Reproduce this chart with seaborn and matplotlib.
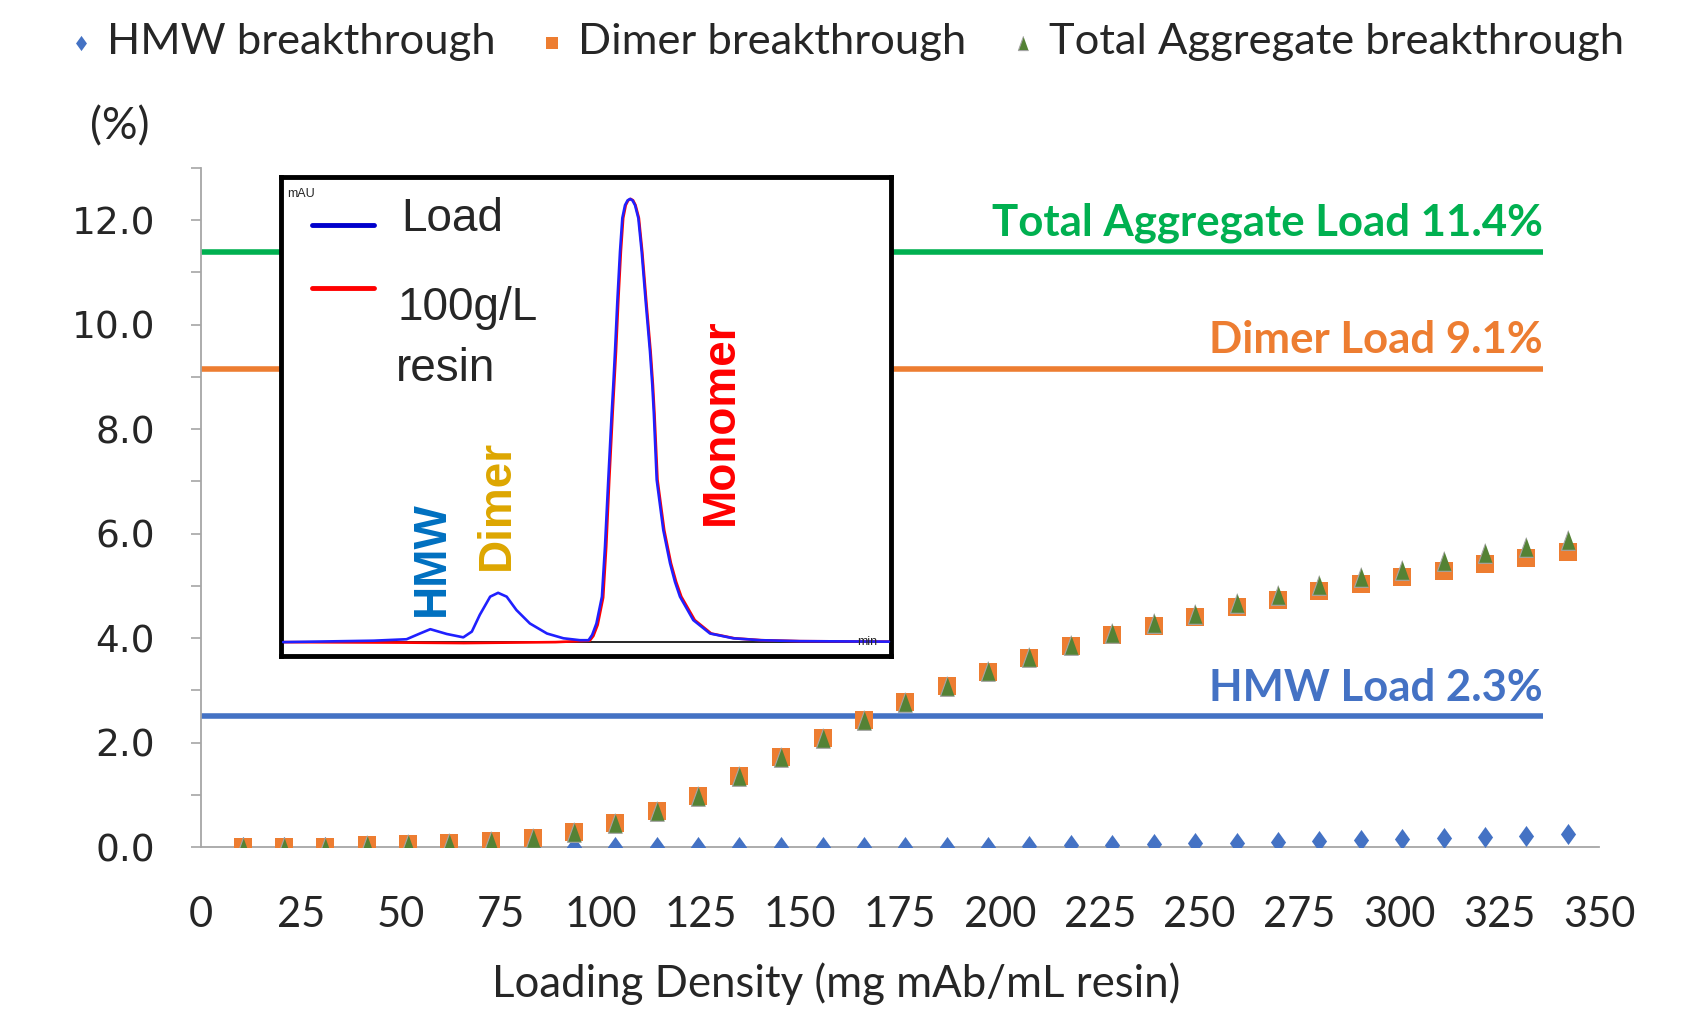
import numpy as np
import matplotlib
matplotlib.use("Agg")
import matplotlib.pyplot as plt
import seaborn as sns

# breakthrough data
loading = [10.4, 20.7, 31.1, 41.5, 51.9, 62.2, 72.6, 83.0, 93.3, 103.7, 114.1,
           124.4, 134.8, 145.2, 155.6, 165.9, 176.3, 186.7, 197.0, 207.4, 217.8,
           228.1, 238.5, 248.9, 259.3, 269.6, 280.0, 290.4, 300.7, 311.1, 321.5,
           331.8, 342.2]
hmw = [0.0, 0.0, 0.0, 0.0, 0.0, 0.0, 0.0, 0.0, 0.0, 0.0, 0.0,
       0.0, 0.0, 0.0, 0.0, 0.0, 0.0, 0.0, 0.0, 0.01, 0.03,
       0.04, 0.05, 0.07, 0.08, 0.09, 0.11, 0.13, 0.15, 0.17, 0.20,
       0.22, 0.24]
dimer = [0.0, 0.0, 0.0, 0.03, 0.05, 0.07, 0.12, 0.18, 0.29, 0.45, 0.68,
         0.97, 1.35, 1.73, 2.08, 2.44, 2.78, 3.08, 3.36, 3.62, 3.85,
         4.06, 4.23, 4.41, 4.60, 4.73, 4.90, 5.03, 5.16, 5.29, 5.41,
         5.53, 5.64]
total = [0.0, 0.0, 0.0, 0.03, 0.05, 0.07, 0.12, 0.18, 0.29, 0.45, 0.68,
         0.97, 1.35, 1.73, 2.08, 2.44, 2.78, 3.08, 3.37, 3.63, 3.87,
         4.09, 4.28, 4.47, 4.68, 4.82, 5.01, 5.16, 5.31, 5.47, 5.62,
         5.75, 5.88]

# load levels (horizontal reference lines)
load_names = ["Total Aggregate Load 11.4%", "Dimer Load 9.1%", "HMW Load 2.3%"]
load_levels = [11.4, 9.15, 2.5]
load_colors = ["#00B050", "#ED7D31", "#4472C4"]

# chromatogram inset (normalised units)
load_t = [0.4, 15.2, 20.6, 22.8, 24.5, 27.2, 29.9, 31.3, 32.6, 34.3, 35.6, 37.0,
          38.6, 40.8, 43.6, 46.3, 49.0, 50.4, 51.0, 51.7, 52.6, 53.1, 53.64, 54.2,
          54.46, 54.74, 55.12, 55.56, 55.94, 56.38, 56.8, 57.2, 57.6, 58.02, 58.56,
          59.11, 59.77, 60.47, 60.85, 61.1, 61.57, 62.65, 63.75, 64.56, 65.38, 67.56,
          70.3, 74.1, 78.5, 85.0, 99.6]
load_sig = [-0.1, 0.2, 0.5, 1.7, 2.6, 1.6, 0.9, 2.1, 5.6, 9.4, 10.2, 9.4,
            6.6, 3.8, 1.7, 0.7, 0.3, 0.3, 1.4, 3.8, 9.4, 19.8, 33.8, 47.7,
            53.6, 60.6, 71.0, 81.5, 88.5, 91.2, 92.2, 92.5, 92.2, 91.2, 88.5,
            81.5, 71.0, 60.6, 53.6, 47.7, 33.8, 23.3, 16.4, 12.5, 9.4, 4.5,
            1.7, 0.7, 0.3, 0.1, 0.0]
resin_t = [0.4, 20.0, 30.0, 45.0, 50.6, 51.2, 51.9, 52.8, 53.3, 53.8, 54.35,
           54.6, 54.9, 55.27, 55.7, 56.08, 56.5, 56.9, 57.3, 57.7, 58.1, 58.65,
           59.2, 59.87, 60.57, 60.95, 61.2, 61.7, 62.8, 63.9, 64.75, 65.6, 67.8,
           70.5, 74.3, 78.7, 85.0, 99.6]
resin_sig = [-0.1, -0.2, -0.3, -0.1, 0.2, 1.2, 3.5, 9.2, 19.8, 33.8, 47.7,
             53.6, 60.6, 71.0, 81.5, 88.5, 91.2, 92.2, 92.5, 92.2, 91.2, 88.5,
             81.5, 71.0, 60.6, 53.6, 47.7, 33.8, 23.3, 16.4, 12.5, 9.4, 4.5,
             1.7, 0.7, 0.3, 0.1, 0.0]

sns.set_style("white")
plt.rcParams['font.family'] = ['Lato', 'DejaVu Sans']

W, H = 1686, 1013
fig = plt.figure(figsize=(W / 100, H / 100), dpi=100)
ax = fig.add_axes([201 / W, 1 - 847 / H, 1398 / W, 679 / H])

diamond = [(0, 1), (0.72, 0), (0, -1), (-0.72, 0)]
tri = [(0, 1), (-0.72, -1), (0.72, -1)]

sns.scatterplot(x=loading, y=hmw, ax=ax, marker=diamond, s=230, color="#4472C4",
                linewidth=0, label="HMW breakthrough", zorder=3)
sns.scatterplot(x=loading, y=dimer, ax=ax, marker="s", s=160, color="#ED7D31",
                linewidth=0, label="Dimer breakthrough", zorder=4)
sns.scatterplot(x=loading, y=total, ax=ax, marker=tri, s=200, color="#548235",
                edgecolor="#A5A5A5", linewidth=0.8, label="Total Aggregate breakthrough", zorder=5)

for name, lvl, col in zip(load_names, load_levels, load_colors):
    ax.plot([0, 336], [lvl, lvl], color=col, lw=4, solid_capstyle="butt", zorder=2)
    ax.text(336, lvl + 0.3, name, color=col, fontsize=31.5, fontweight="bold",
            ha="right", va="baseline")

ax.set_xlim(0, 350)
ax.set_ylim(0, 13)
ax.set_xticks(np.arange(0, 351, 25))
ax.set_yticks(np.arange(0, 13, 2))
ax.set_yticks(np.arange(1, 14, 2), minor=True)
ax.set_yticklabels([f"{v:.1f}" for v in np.arange(0, 13, 2)], family="DejaVu Sans", fontsize=27)
ax.tick_params(axis="x", direction="in", length=11, width=1.2, color="#A6A6A6",
               labelsize=30, pad=35)
ax.tick_params(axis="y", which="both", direction="out", length=7, width=1.2,
               color="#A6A6A6", pad=26, left=True)
for s in ["top", "right"]:
    ax.spines[s].set_visible(False)
for s in ["left", "bottom"]:
    ax.spines[s].set_color("#A6A6A6")
    ax.spines[s].set_linewidth(1.3)

handles, labels = ax.get_legend_handles_labels()
ax.get_legend().remove()
fig.legend(handles, labels, loc="upper left", bbox_to_anchor=(0.012, 1.016), ncol=3,
           frameon=False, fontsize=31.3, markerscale=0.72, handletextpad=0.1,
           columnspacing=0.8, handlelength=1.0)

fig.text(120 / W, 1 - 127 / H, "(%)", fontsize=32, ha="center", va="center")
fig.text(836 / W, 1 - 984 / H, "Loading Density (mg mAb/mL resin)", fontsize=31.5,
         ha="center", va="center")

# inset chromatogram
ins = fig.add_axes([280.7 / W, 1 - 656 / H, 610.7 / W, 478.6 / H])
ins.set_facecolor("white")
ins.axhline(0, color="black", lw=1.2, zorder=1)
sns.lineplot(x=resin_t, y=resin_sig, ax=ins, color="#FF0000", lw=1.9, sort=False, zorder=2)
sns.lineplot(x=load_t, y=load_sig, ax=ins, color="#2020FF", lw=1.9, sort=False, zorder=3)
ins.set_xlim(0, 100)
ins.set_ylim(-3, 97)
ins.set_xticks([])
ins.set_yticks([])
for s in ins.spines.values():
    s.set_color("black")
    s.set_linewidth(3.5)

lf = ["Liberation Sans", "DejaVu Sans"]
ins.plot([0.051, 0.153], [0.901, 0.901], transform=ins.transAxes, color="#0000CC", lw=3.5)
ins.plot([0.051, 0.153], [0.769, 0.769], transform=ins.transAxes, color="#FF0000", lw=3.5)
ins.text(0.197, 0.913, "Load", transform=ins.transAxes, fontsize=33, family=lf, va="center")
ins.text(0.192, 0.728, "100g/L", transform=ins.transAxes, fontsize=33, family=lf, va="center")
ins.text(0.189, 0.599, "resin", transform=ins.transAxes, fontsize=33, family=lf, va="center")
ins.text(0.011, 0.966, "mAU", transform=ins.transAxes, fontsize=9, family=lf, va="center")
ins.text(0.944, 0.029, "min", transform=ins.transAxes, fontsize=9, family=lf, va="center")

ins.text(0.248, 0.203, "HMW", transform=ins.transAxes, fontsize=33, family=lf,
         fontweight="bold", color="#0070C0", rotation=90, ha="center", va="center")
ins.text(0.354, 0.315, "Dimer", transform=ins.transAxes, fontsize=33, family=lf,
         fontweight="bold", color="#DDA600", rotation=90, ha="center", va="center")
ins.text(0.720, 0.490, "Monomer", transform=ins.transAxes, fontsize=33, family=lf,
         fontweight="bold", color="#FF0000", rotation=90, ha="center", va="center")

fig.savefig("out.png", dpi=100)
